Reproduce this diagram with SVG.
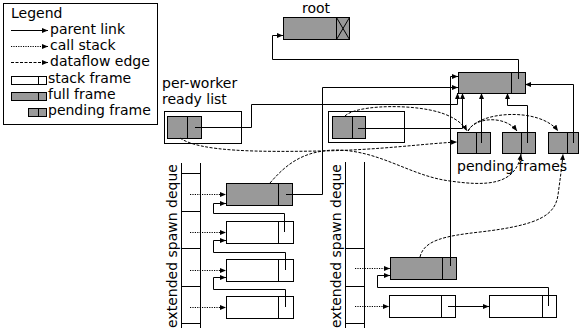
<svg xmlns="http://www.w3.org/2000/svg" width="580" height="331" viewBox="0 0 580 331">
  <style>
    text { font-family: "DejaVu Sans", Verdana, "Bitstream Vera Sans", "Noto Sans", sans-serif; font-size: 14px; fill: #000; }
    .box { fill: #fff; stroke: #000; stroke-width: 1; }
    .full { fill: #999; stroke: #000; stroke-width: 1; }
    .stack { fill: #fff; stroke: #000; stroke-width: 1; }
    .div { stroke: #000; stroke-width: 1; }
    .deque { fill: none; stroke: #000; stroke-width: 1; }
    .link { fill: none; stroke: #000; stroke-width: 1; marker-end: url(#head); }
    .call { fill: none; stroke: #000; stroke-width: 1; stroke-dasharray: 1.2 1.2; marker-end: url(#head); }
    .flow { fill: none; stroke: #000; stroke-width: 1; stroke-dasharray: 3 1.5; marker-end: url(#head); }
  </style>
  <defs>
    <marker id="head" markerUnits="userSpaceOnUse" markerWidth="7" markerHeight="6" refX="6" refY="3" orient="auto">
      <path d="M0,0.5 L6,3 L0,5.5 Z" fill="#000"/>
    </marker>
  </defs>

  <!-- legend -->
  <g id="legend">
    <rect class="box" x="3.5" y="3.5" width="154" height="121"/>
    <text x="11" y="18">Legend</text>
    <path class="link" d="M11,30.5 H48"/>
    <text x="50" y="34">parent link</text>
    <path class="call" d="M11,46.5 H48"/>
    <text x="50" y="50">call stack</text>
    <path class="flow" d="M11,62.5 H48"/>
    <text x="50" y="66">dataflow edge</text>
    <rect class="stack" x="11.5" y="76.5" width="35" height="8"/>
    <line class="div" x1="38.5" y1="76.5" x2="38.5" y2="84.5"/>
    <text x="48" y="83">stack frame</text>
    <rect class="full" x="11.5" y="92.5" width="35" height="8"/>
    <line class="div" x1="38.5" y1="92.5" x2="38.5" y2="100.5"/>
    <text x="48" y="99">full frame</text>
    <rect class="full" x="28.5" y="108.5" width="18" height="8"/>
    <line class="div" x1="38.5" y1="108.5" x2="38.5" y2="116.5"/>
    <text x="48" y="115">pending frame</text>
  </g>

  <!-- root frame -->
  <g id="root">
    <text x="316" y="13" text-anchor="middle">root</text>
    <rect class="full" x="283.5" y="17.5" width="66" height="22"/>
    <line class="div" x1="336.5" y1="17.5" x2="336.5" y2="39.5"/>
    <path class="div" d="M336.5,17.5 L349.5,39.5 M336.5,39.5 L349.5,17.5"/>
  </g>

  <!-- shared full frame -->
  <g id="frame-top">
    <rect class="full" x="458.5" y="72.5" width="67" height="21"/>
    <line class="div" x1="511.5" y1="72.5" x2="511.5" y2="93.5"/>
  </g>

  <!-- pending frames -->
  <g id="pending-1">
    <rect class="full" x="457.5" y="132.5" width="33" height="21"/>
    <line class="div" x1="476.5" y1="132.5" x2="476.5" y2="153.5"/>
  </g>
  <g id="pending-2">
    <rect class="full" x="502.5" y="132.5" width="33" height="21"/>
    <line class="div" x1="521.5" y1="132.5" x2="521.5" y2="153.5"/>
  </g>
  <g id="pending-3">
    <rect class="full" x="548.5" y="132.5" width="30" height="21"/>
    <line class="div" x1="567.5" y1="132.5" x2="567.5" y2="153.5"/>
  </g>
  <text x="457" y="171">pending frames</text>

  <!-- per-worker ready lists -->
  <g id="ready-list-1">
    <text x="162" y="88">per-worker</text>
    <text x="162" y="104">ready list</text>
    <rect class="box" x="164.5" y="111.5" width="77" height="32"/>
    <rect class="full" x="167.5" y="116.5" width="34" height="22"/>
    <line class="div" x1="187.5" y1="116.5" x2="187.5" y2="138.5"/>
  </g>
  <g id="ready-list-2">
    <rect class="box" x="328.5" y="111.5" width="76" height="31"/>
    <rect class="full" x="332.5" y="116.5" width="33" height="22"/>
    <line class="div" x1="352.5" y1="116.5" x2="352.5" y2="138.5"/>
  </g>

  <!-- spawn deque of worker 1 -->
  <g id="deque-1">
    <text transform="translate(177,328) rotate(-90)">extended spawn deque</text>
    <path class="deque" d="M181.5,163 V328 M200.5,163 V328 M181.5,173.5 H200.5 M181.5,211.5 H200.5 M181.5,248.5 H200.5 M181.5,286.5 H200.5 M181.5,323.5 H200.5"/>
  </g>
  <g id="d1-frame-0">
    <rect class="full" x="226.5" y="183.5" width="66" height="22"/>
    <line class="div" x1="278.5" y1="183.5" x2="278.5" y2="205.5"/>
  </g>
  <g id="d1-frame-1">
    <rect class="stack" x="226.5" y="221.5" width="67" height="22"/>
    <line class="div" x1="278.5" y1="221.5" x2="278.5" y2="243.5"/>
  </g>
  <g id="d1-frame-2">
    <rect class="stack" x="226.5" y="259.5" width="67" height="22"/>
    <line class="div" x1="278.5" y1="259.5" x2="278.5" y2="281.5"/>
  </g>
  <g id="d1-frame-3">
    <rect class="stack" x="226.5" y="296.5" width="67" height="22"/>
    <line class="div" x1="278.5" y1="296.5" x2="278.5" y2="318.5"/>
  </g>

  <!-- spawn deque of worker 2 -->
  <g id="deque-2">
    <text transform="translate(341,328) rotate(-90)">extended spawn deque</text>
    <path class="deque" d="M345.5,162 V328 M364.5,162 V328 M345.5,248.5 H364.5 M345.5,286.5 H364.5 M345.5,323.5 H364.5"/>
  </g>
  <g id="d2-frame-0">
    <rect class="full" x="390.5" y="257.5" width="66" height="22"/>
    <line class="div" x1="442.5" y1="257.5" x2="442.5" y2="279.5"/>
  </g>
  <g id="d2-frame-1">
    <rect class="stack" x="389.5" y="295.5" width="66" height="22"/>
    <line class="div" x1="441.5" y1="295.5" x2="441.5" y2="317.5"/>
  </g>
  <g id="d2-frame-2">
    <rect class="stack" x="489.5" y="295.5" width="67" height="22"/>
    <line class="div" x1="542.5" y1="295.5" x2="542.5" y2="317.5"/>
  </g>

  <!-- connectors -->
  <g id="connectors">
    <!-- call stack pointers from deque cells -->
    <path class="call" d="M190,194.5 H226"/>
    <path class="call" d="M190,232.5 H226"/>
    <path class="call" d="M190,270.5 H226"/>
    <path class="call" d="M190,307.5 H226"/>
    <path class="call" d="M355,268.5 H390"/>
    <path class="call" d="M355,306.5 H389"/>

    <!-- parent links -->
    <path class="link" d="M284.5,232 V213.5 H213.5 V203.5 H226"/>
    <path class="link" d="M285.5,270 V252.5 H213.5 V240.5 H226"/>
    <path class="link" d="M285.5,307 V289.5 H213.5 V277.5 H226"/>
    <path class="link" d="M286,194.5 H322.5 V87.5 H458"/>
    <path class="link" d="M450.5,266 V76.5 H458"/>
    <path class="link" d="M448,306.5 H489"/>
    <path class="link" d="M548.5,306 V287.5 H377.5 V275.5 H390"/>
    <path class="link" d="M195,127.5 H251.5 V104.5 H457.5 V93"/>
    <path class="link" d="M358,128.5 H462.5 V93"/>
    <path class="link" d="M481.5,143 V93"/>
    <path class="link" d="M527.5,143 V105.5 H507.5 V93"/>
    <path class="link" d="M573.5,143 V84.5 H525"/>
    <path class="link" d="M518.5,79 V59.5 H272.5 V35.5 H283"/>

    <!-- dataflow edges -->
    <path class="flow" d="M180,138 C200,152 260,152 320,151 C380,150 420,144 457,142"/>
    <path class="flow" d="M270,183 C288,162 305,151 335,150 C380,150 410,176 450,181 C485,186 516,186 521,154"/>
    <path class="flow" d="M420,257 C424,240 445,236 480,232 C540,225 555,215 558,195 C560,180 562,166 563,154"/>
    <path class="flow" d="M345,116 C355,106 400,104 430,110 C450,114 462,122 467,131"/>
    <path class="flow" d="M468,131 C475,117 505,115 517,131"/>
    <path class="flow" d="M468,131 C478,111 540,107 558,131"/>
  </g>
</svg>
